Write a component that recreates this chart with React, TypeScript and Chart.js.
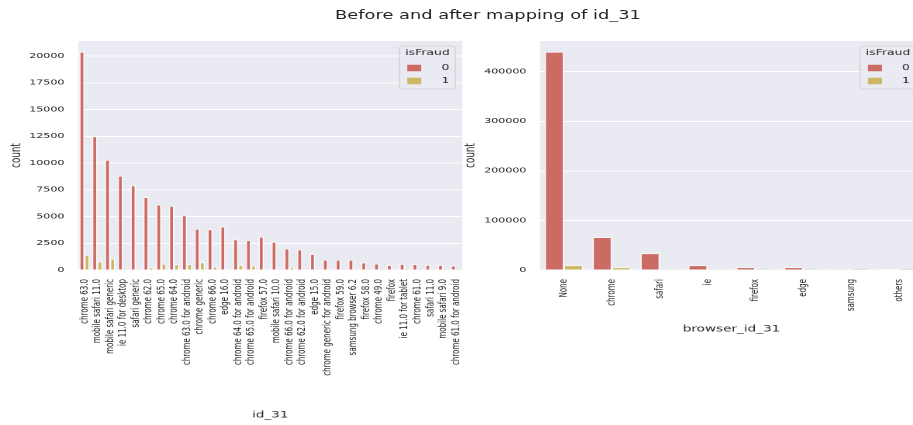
import React, { useEffect, useRef } from 'react';
import { Chart, registerables } from 'chart.js';

Chart.register(...registerables);

// ---- data ----
const id31Labels = [
  'chrome 63.0', 'mobile safari 11.0', 'mobile safari generic', 'ie 11.0 for desktop', 'safari generic',
  'chrome 62.0', 'chrome 65.0', 'chrome 64.0', 'chrome 63.0 for android', 'chrome generic',
  'chrome 66.0', 'edge 16.0', 'chrome 64.0 for android', 'chrome 65.0 for android', 'firefox 57.0',
  'mobile safari 10.0', 'chrome 66.0 for android', 'chrome 62.0 for android', 'edge 15.0', 'chrome generic for android',
  'firefox 59.0', 'samsung browser 6.2', 'firefox 58.0', 'chrome 49.0', 'firefox',
  'ie 11.0 for tablet', 'chrome 61.0', 'safari 11.0', 'mobile safari 9.0', 'chrome 61.0 for android',
];
const id31NotFraud = [
  20400, 12500, 10300, 8800, 7900,
  6800, 6100, 6000, 5100, 3850,
  3800, 4050, 2850, 2780, 3100,
  2620, 2000, 1900, 1500, 950,
  950, 950, 690, 600, 450,
  550, 540, 470, 470, 400,
];
const id31Fraud = [
  1400, 780, 1050, 100, 150,
  230, 580, 530, 540, 700,
  300, 70, 450, 390, 80,
  60, 220, 70, 10, 60,
  10, 10, 10, 10, 60,
  5, 10, 10, 10, 10,
];
const id31YTicks = [0, 2500, 5000, 7500, 10000, 12500, 15000, 17500, 20000];

const browserLabels = ['None', 'chrome', 'safari', 'ie', 'firefox', 'edge', 'samsung', 'others'];
const browserNotFraud = [440000, 66000, 33600, 9400, 5400, 5400, 1500, 1200];
const browserFraud = [9400, 5400, 600, 300, 150, 200, 50, 30];
const browserYTicks = [0, 100000, 200000, 300000, 400000];

const hueLabels = ['0', '1'];
const hueTitle = 'isFraud';

// ---- style ----
const FONT = "'DejaVu Sans', 'Noto Sans', sans-serif";
const TEXT = '#262626';
const AX_BG = '#EAEAF2';
const COLORS = ['rgb(204,106,100)', 'rgb(204,183,101)'];
const SX = 0.775; // horizontal display scale of the canvases
const SY = 0.5; // vertical display scale

const bgPlugin = {
  id: 'axbg',
  beforeDraw(chart: any) {
    const { ctx, chartArea: a } = chart;
    ctx.save();
    ctx.fillStyle = AX_BG;
    ctx.fillRect(a.left, a.top, a.right - a.left, a.bottom - a.top);
    ctx.restore();
  },
};

const boxLegendPlugin = {
  id: 'boxLegend',
  afterDraw(chart: any, _args: any, opts: any) {
    const { ctx, chartArea: a } = chart;
    const w = 72;
    const h = 86;
    const x = a.right - 9 - w;
    const y = a.top + 10;
    ctx.save();
    ctx.beginPath();
    if (ctx.roundRect) ctx.roundRect(x, y, w, h, 4);
    else ctx.rect(x, y, w, h);
    ctx.fillStyle = 'rgba(234,234,242,0.8)';
    ctx.fill();
    ctx.strokeStyle = 'rgba(204,204,204,0.8)';
    ctx.lineWidth = 1.5;
    ctx.stroke();
    ctx.fillStyle = TEXT;
    ctx.font = `16px ${FONT}`;
    ctx.textAlign = 'center';
    ctx.textBaseline = 'middle';
    ctx.fillText(opts.title, x + w / 2, y + 14);
    chart.data.datasets.forEach((ds: any, i: number) => {
      const cy = y + 44 + i * 26;
      ctx.fillStyle = ds.backgroundColor;
      ctx.fillRect(x + 10, cy - 6.5, 18, 13);
      ctx.fillStyle = TEXT;
      ctx.textAlign = 'left';
      ctx.fillText(ds.label, x + 54, cy);
    });
    ctx.restore();
  },
};

function makeConfig(
  labels: string[],
  d0: number[],
  d1: number[],
  yTicks: number[],
  xTitle: string,
  geo: { yWidth: number; padRight: number; yTitlePad: number; xTitlePad: number }
): any {
  const yMax = Math.max(...d0, ...d1) * 1.05;
  return {
    type: 'bar',
    data: {
      labels,
      datasets: [d0, d1].map((d, i) => ({
        label: hueLabels[i],
        data: d,
        backgroundColor: COLORS[i],
        borderColor: '#ffffff',
        borderWidth: 1.5,
        categoryPercentage: 0.8,
        barPercentage: 1.0,
      })),
    },
    options: {
      responsive: false,
      animation: false,
      devicePixelRatio: 1,
      layout: { padding: { top: 82, right: geo.padRight, bottom: 0, left: 0 } },
      plugins: {
        legend: { display: false },
        tooltip: { enabled: false },
        boxLegend: { title: hueTitle },
      },
      scales: {
        x: {
          type: 'category',
          offset: true,
          grid: { display: false },
          border: { display: false },
          ticks: {
            autoSkip: false,
            minRotation: 90,
            maxRotation: 90,
            padding: 10,
            color: TEXT,
            font: { family: FONT, size: 14.2 },
          },
          title: {
            display: true,
            text: xTitle,
            color: TEXT,
            font: { family: FONT, size: 17.5 },
            padding: { top: 0, bottom: geo.xTitlePad },
          },
          afterFit: (s: any) => {
            s.height = 310;
            s.paddingLeft = 0;
            s.paddingRight = 0;
          },
        },
        y: {
          min: 0,
          max: yMax,
          grid: { color: '#ffffff', lineWidth: 2, drawTicks: false },
          border: { display: false },
          afterBuildTicks: (s: any) => {
            s.ticks = yTicks.filter((v) => v <= yMax).map((v) => ({ value: v }));
          },
          ticks: {
            autoSkip: false,
            padding: 17.7,
            color: TEXT,
            font: { family: FONT, size: 14.2 },
            callback: (v: any) => String(v),
          },
          title: {
            display: true,
            text: 'count',
            color: TEXT,
            font: { family: FONT, size: 17.5 },
            padding: { top: geo.yTitlePad, bottom: 0 },
          },
          afterFit: (s: any) => {
            s.width = geo.yWidth;
            s.paddingTop = 0;
            s.paddingBottom = 0;
          },
        },
      },
    },
    plugins: [bgPlugin, boxLegendPlugin],
  };
}

const LEFT_W = 606;
const RIGHT_W = 613;
const CANVAS_H = 850;
const RIGHT_X = 455;

export default function App() {
  const leftRef = useRef<HTMLCanvasElement>(null);
  const rightRef = useRef<HTMLCanvasElement>(null);

  useEffect(() => {
    const left = new Chart(
      leftRef.current as HTMLCanvasElement,
      makeConfig(id31Labels, id31NotFraud, id31Fraud, id31YTicks, 'id_31', {
        yWidth: 78 / SX,
        padRight: LEFT_W - 462 / SX,
        yTitlePad: 11.4,
        xTitlePad: 9.5,
      })
    );
    const right = new Chart(
      rightRef.current as HTMLCanvasElement,
      makeConfig(browserLabels, browserNotFraud, browserFraud, browserYTicks, 'browser_id_31', {
        yWidth: (540 - RIGHT_X) / SX,
        padRight: RIGHT_W - (923 - RIGHT_X) / SX,
        yTitlePad: 10.1,
        xTitlePad: 181.5,
      })
    );
    return () => {
      left.destroy();
      right.destroy();
    };
  }, []);

  return (
    <div
      style={{
        position: 'absolute',
        left: 0,
        top: 0,
        width: 913,
        height: 425,
        overflow: 'hidden',
        background: '#ffffff',
      }}
    >
      <canvas
        ref={leftRef}
        width={LEFT_W}
        height={CANVAS_H}
        style={{ position: 'absolute', left: 0, top: 0, width: LEFT_W * SX, height: CANVAS_H * SY }}
      />
      <canvas
        ref={rightRef}
        width={RIGHT_W}
        height={CANVAS_H}
        style={{ position: 'absolute', left: RIGHT_X, top: 0, width: RIGHT_W * SX, height: CANVAS_H * SY }}
      />
      <div
        style={{
          position: 'absolute',
          left: 488,
          top: 15,
          transform: `translate(-50%, -50%) scale(${SX}, ${SY})`,
          whiteSpace: 'nowrap',
          fontFamily: FONT,
          fontSize: 23,
          lineHeight: 1,
          color: TEXT,
        }}
      >
        Before and after mapping of id_31
      </div>
    </div>
  );
}
